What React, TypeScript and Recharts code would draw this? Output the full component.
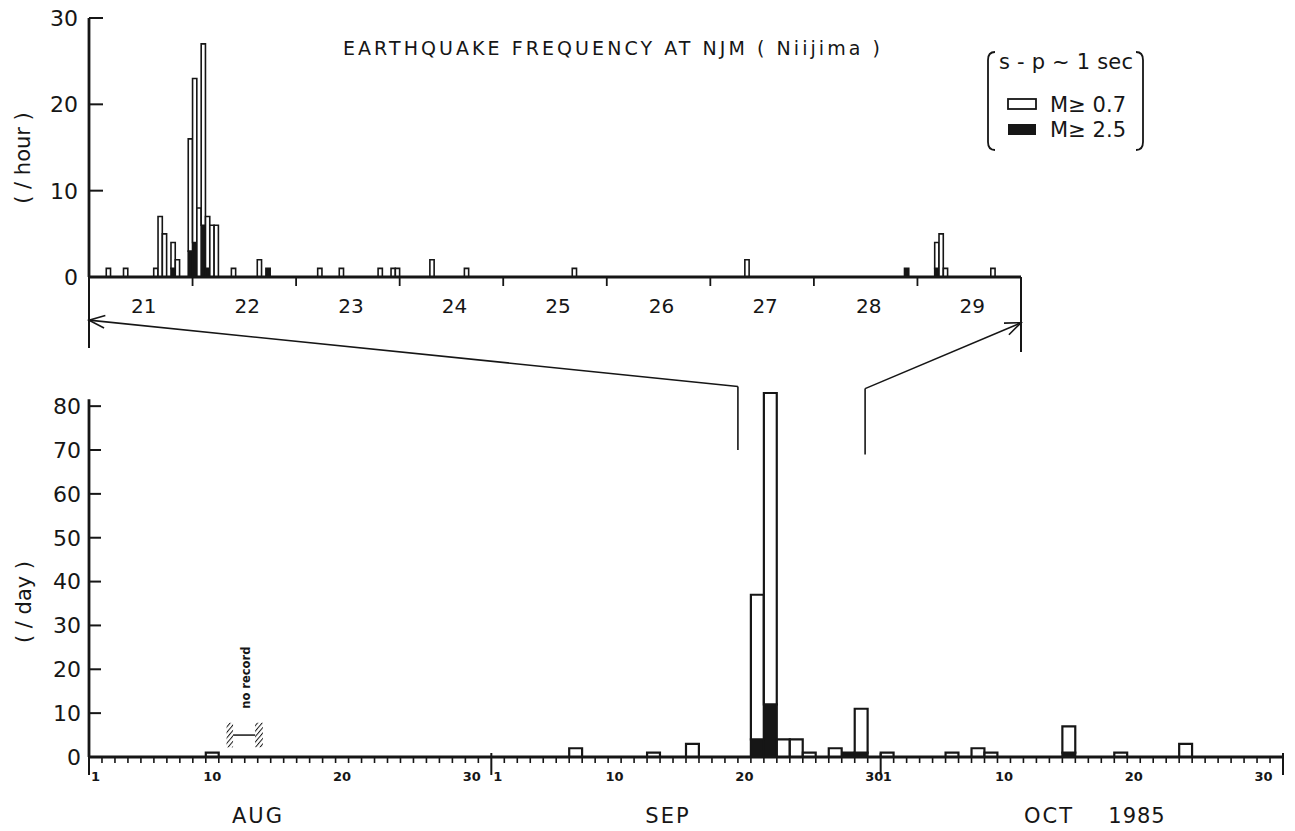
import React from 'react';
import { ComposedChart, Bar, XAxis, YAxis, ReferenceLine, ReferenceArea } from 'recharts';

const W = 1295;
const H = 831;
const INK = '#161616';
const FONT = '"DejaVu Sans", sans-serif';

// hourly counts, hours counted from Sep 21 00h (top panel covers 21..29)
const hourOffsets = [4, 8, 15, 16, 17, 19, 20, 23, 24, 25, 26, 27, 28, 29, 33, 39, 41, 53, 58, 67, 70, 71, 79, 87, 112, 152, 189, 196, 197, 198, 209];
const hourAll = [1, 1, 1, 7, 5, 4, 2, 16, 23, 8, 27, 7, 6, 6, 1, 2, 1, 1, 1, 1, 1, 1, 2, 1, 1, 2, 1, 4, 5, 1, 1];
const hourLarge = [0, 0, 0, 0, 0, 1, 0, 3, 4, 0, 6, 1, 0, 0, 0, 0, 1, 0, 0, 0, 0, 0, 0, 0, 0, 0, 1, 1, 0, 0, 0];
const hourDayLabels = ['21', '22', '23', '24', '25', '26', '27', '28', '29'];
const hourTicks = [0, 24, 48, 72, 96, 120, 144, 168, 192, 216];
const hourYTicks = [0, 10, 20, 30];

// daily counts, Aug 1 - Oct 31 1985
const dayDates = ['8/10', '9/7', '9/13', '9/16', '9/21', '9/22', '9/23', '9/24', '9/25', '9/27', '9/28', '9/29', '10/1', '10/6', '10/8', '10/9', '10/15', '10/19', '10/24'];
const dayAll = [1, 2, 1, 3, 37, 83, 4, 4, 1, 2, 1, 11, 1, 1, 2, 1, 7, 1, 3];
const dayLarge = [0, 0, 0, 0, 4, 12, 0, 0, 0, 0, 1, 1, 0, 0, 0, 0, 1, 0, 0];
const monthNumbers = [8, 9, 10];
const monthLengths = [31, 30, 31];
const dayLabelDates = [1, 10, 20, 30];
const dayYTicks = [0, 10, 20, 30, 40, 50, 60, 70, 80];
const noRecord = [11.1, 12.8]; // in days from Aug 1
const zoomSpan = [50, 59.8]; // part of the lower axis shown above

const monthStarts = monthLengths.reduce<number[]>((acc, n) => [...acc, acc[acc.length - 1] + n], [0]);
const DAYS = monthStarts[monthStarts.length - 1];
const HOURS = 216;

const dayIndex = (s: string) => {
  const [m, d] = s.split('/').map(Number);
  return monthStarts[monthNumbers.indexOf(m)] + d - 1;
};

const hourData = hourOffsets.map((h, i) => ({ x: h + 0.5, large: hourLarge[i], small: hourAll[i] - hourLarge[i] }));
const dayData = dayDates.map((s, i) => ({ x: dayIndex(s) + 0.5, large: dayLarge[i], small: dayAll[i] - dayLarge[i] }));
const dayTicks = Array.from({ length: DAYS + 1 }, (_, i) => i);

// plot boxes
const TOP = { left: 89, right: 1021, top: 18, bottom: 277, max: 30 };
const BOT = { left: 89, right: 1283, top: 393, bottom: 757, max: 83 };
const hourPx = (TOP.right - TOP.left) / HOURS;
const dayPx = (BOT.right - BOT.left) / DAYS;

const tx = (h: number) => TOP.left + h * hourPx;
const ty = (v: number) => TOP.bottom - (v / TOP.max) * (TOP.bottom - TOP.top);
const bx = (d: number) => BOT.left + d * dayPx;
const by = (v: number) => BOT.bottom - (v / BOT.max) * (BOT.bottom - BOT.top);

const YTick = (p: any) => (
  <g>
    <line x1={p.x} x2={p.x + p.len} y1={p.y} y2={p.y} stroke={INK} strokeWidth={2} />
    <text x={p.x - p.gap} y={p.y} dy="0.36em" textAnchor="end" fontSize={22} fontFamily={FONT} fill={INK}>
      {p.payload.value}
    </text>
  </g>
);

const HourTick = (p: any) => {
  const h = p.payload.value;
  const i = Math.round(h / 24);
  const len = h === 0 ? 71 : h === HOURS ? 75 : 9;
  return (
    <g>
      <line x1={p.x} x2={p.x} y1={p.y} y2={p.y + len} stroke={INK} strokeWidth={h === 0 || h === HOURS ? 2 : 1.8} />
      {i < hourDayLabels.length && (
        <text x={p.x + (24 * hourPx) / 2 + 3} y={p.y + 36} textAnchor="middle" fontSize={20} fontFamily={FONT} fill={INK}>
          {hourDayLabels[i]}
        </text>
      )}
    </g>
  );
};

const DayTick = (p: any) => {
  const d = p.payload.value;
  const isBoundary = monthStarts.includes(d);
  let m = 0;
  while (m < monthStarts.length - 2 && d >= monthStarts[m + 1]) m++;
  const dom = d - monthStarts[m] + 1;
  const label = d < DAYS && dayLabelDates.includes(dom) ? String(dom) : null;
  return (
    <g>
      <line x1={p.x} x2={p.x} y1={isBoundary ? p.y - 4 : p.y} y2={isBoundary ? p.y + 18 : p.y + 6} stroke={INK} strokeWidth={isBoundary ? 2 : 1.6} />
      {label && (
        <text x={p.x + dayPx / 2} y={p.y + 24} textAnchor="middle" fontSize={13} fontWeight="bold" fontFamily={FONT} fill={INK}>
          {label}
        </text>
      )}
    </g>
  );
};

const arrowHead = (tip: { x: number; y: number }, from: { x: number; y: number }) => {
  const a = Math.atan2(from.y - tip.y, from.x - tip.x);
  const L = 17;
  const s = 0.38;
  return `M${tip.x + L * Math.cos(a - s)},${tip.y + L * Math.sin(a - s)} L${tip.x},${tip.y} L${tip.x + L * Math.cos(a + s)},${tip.y + L * Math.sin(a + s)}`;
};

export default function App() {
  const leftTip = { x: tx(0), y: ty(-5) };
  const rightTip = { x: tx(HOURS), y: ty(-5.3) };
  const leftBase = { x: bx(zoomSpan[0]), y: by(84.5) };
  const rightBase = { x: bx(zoomSpan[1]), y: by(84) };
  const nrMid = (noRecord[0] + noRecord[1]) / 2;

  return (
    <div style={{ position: 'absolute', left: 0, top: 0, width: W, height: H, background: '#fff' }}>
      <div style={{ position: 'absolute', left: 0, top: 0 }}>
        <ComposedChart width={W} height={H} data={dayData} margin={{ top: BOT.top, right: W - BOT.right, bottom: H - BOT.bottom - 40, left: BOT.left - 60 }}>
          <XAxis type="number" dataKey="x" domain={[0, DAYS]} ticks={dayTicks} interval={0} height={40} tickSize={0} tickMargin={0}
            axisLine={{ stroke: INK, strokeWidth: 2.8 }} tick={(p: any) => <DayTick {...p} />} />
          <YAxis type="number" domain={[0, BOT.max]} ticks={dayYTicks} interval={0} width={60} tickSize={0} tickMargin={0}
            axisLine={false} tick={(p: any) => <YTick {...p} len={12} gap={8} />} />
          <ReferenceLine segment={[{ x: 0, y: 0 }, { x: 0, y: 81.6 }]} stroke={INK} strokeWidth={2.8} />
          <ReferenceArea x1={noRecord[0] - 0.5} x2={noRecord[0]} y1={2.2} y2={7.8} fill="url(#hatch)" stroke="none" fillOpacity={1} />
          <ReferenceArea x1={noRecord[1]} x2={noRecord[1] + 0.6} y1={2.2} y2={7.8} fill="url(#hatch)" stroke="none" fillOpacity={1} />
          <ReferenceLine segment={[{ x: noRecord[0], y: 5 }, { x: noRecord[1], y: 5 }]} stroke={INK} strokeWidth={1.5} />
          <Bar dataKey="large" stackId="d" fill={INK} stroke={INK} strokeWidth={2.2} barSize={dayPx - 0.08} isAnimationActive={false} />
          <Bar dataKey="small" stackId="d" fill="#fff" stroke={INK} strokeWidth={2.2} barSize={dayPx - 0.08} isAnimationActive={false} />
        </ComposedChart>
      </div>
      <div style={{ position: 'absolute', left: 0, top: 0 }}>
        <ComposedChart width={W} height={H} data={hourData} margin={{ top: TOP.top, right: W - TOP.right, bottom: H - TOP.bottom - 40, left: TOP.left - 60 }}>
          <XAxis type="number" dataKey="x" domain={[0, HOURS]} ticks={hourTicks} interval={0} height={40} tickSize={0} tickMargin={0}
            axisLine={{ stroke: INK, strokeWidth: 2.8 }} tick={(p: any) => <HourTick {...p} />} />
          <YAxis type="number" domain={[0, TOP.max]} ticks={hourYTicks} interval={0} width={60} tickSize={0} tickMargin={0}
            axisLine={{ stroke: INK, strokeWidth: 2.8 }} tick={(p: any) => <YTick {...p} len={14} gap={11} />} />
          <Bar dataKey="large" stackId="h" fill={INK} stroke={INK} strokeWidth={1.6} barSize={hourPx - 0.05} isAnimationActive={false} />
          <Bar dataKey="small" stackId="h" fill="#fff" stroke={INK} strokeWidth={1.6} barSize={hourPx - 0.05} isAnimationActive={false} />
        </ComposedChart>
      </div>
      <svg width={W} height={H} style={{ position: 'absolute', left: 0, top: 0, pointerEvents: 'none' }} fontFamily={FONT} fill={INK}>
        <defs>
          <pattern id="hatch" patternUnits="userSpaceOnUse" width={3.5} height={3.5} patternTransform="rotate(40)">
            <line x1={0} y1={0} x2={0} y2={3.5} stroke={INK} strokeWidth={2} />
          </pattern>
        </defs>
        <text x={343} y={55} fontSize={19} textLength={537} lengthAdjust="spacing">EARTHQUAKE FREQUENCY AT NJM ( Niijima )</text>

        {/* legend */}
        <path d="M995,52 Q988,52 988,60 L988,142 Q988,150 995,150" fill="none" stroke={INK} strokeWidth={1.8} />
        <path d="M1136,52 Q1143,52 1143,60 L1143,142 Q1143,150 1136,150" fill="none" stroke={INK} strokeWidth={1.8} />
        <text x={999} y={69} fontSize={21} textLength={134} lengthAdjust="spacing">s - p ~ 1 sec</text>
        <rect x={1008} y={99} width={28} height={10} fill="#fff" stroke={INK} strokeWidth={1.8} />
        <text x={1050} y={112} fontSize={21} textLength={76} lengthAdjust="spacing">M≥ 0.7</text>
        <rect x={1008} y={124} width={28} height={11} fill={INK} />
        <text x={1050} y={137} fontSize={21} textLength={76} lengthAdjust="spacing">M≥ 2.5</text>

        {/* axis titles */}
        <text transform="translate(30,158) rotate(-90)" fontSize={21} textAnchor="middle">( / hour )</text>
        <text transform="translate(31,602) rotate(-90)" fontSize={21} textAnchor="middle">( / day )</text>

        {/* month names */}
        <text x={258} y={823} fontSize={21} textAnchor="middle" letterSpacing={2}>AUG</text>
        <text x={668} y={823} fontSize={21} textAnchor="middle" letterSpacing={2}>SEP</text>
        <text x={1049} y={823} fontSize={21} textAnchor="middle" letterSpacing={2}>OCT</text>
        <text x={1137} y={823} fontSize={21} textAnchor="middle" letterSpacing={1}>1985</text>

        {/* no record */}
        <text transform={`translate(${bx(nrMid) + 6},${by(11)}) rotate(-90)`} fontSize={11.5} fontWeight="bold">no record</text>

        {/* expansion arrows */}
        <g fill="none" stroke={INK} strokeWidth={1.6}>
          <line x1={leftBase.x} y1={leftBase.y} x2={leftTip.x} y2={leftTip.y} />
          <line x1={leftBase.x} y1={leftBase.y} x2={leftBase.x} y2={by(70)} />
          <path d={arrowHead(leftTip, leftBase)} />
          <line x1={rightBase.x} y1={rightBase.y} x2={rightTip.x} y2={rightTip.y} />
          <line x1={rightBase.x} y1={rightBase.y} x2={rightBase.x} y2={by(69)} />
          <path d={arrowHead(rightTip, rightBase)} />
        </g>
      </svg>
    </div>
  );
}
